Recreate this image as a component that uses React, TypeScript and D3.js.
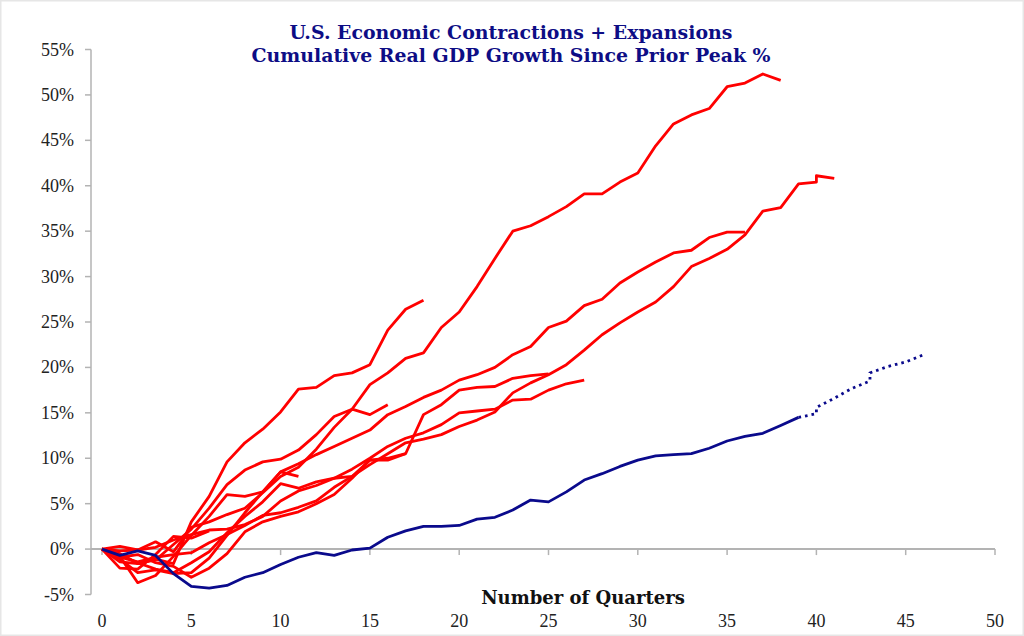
import React from "react";
import * as d3 from "d3";

// ---- Data (cumulative real GDP % since prior peak, by quarter) ----
const exp1948 = [0, -1.4, -1.6, -1.1, -1.6, 3.0, 5.8, 9.6, 11.7, 13.2, 15.1, 17.6, 17.8, 19.1, 19.4, 20.3, 24.1, 26.4, 27.4];
const exp1953 = [0, -0.6, -1.5, -2.2, -2.6, -1.5, -0.3, 1.8, 3.6, 5.2, 7.2, 6.7, 7.4, 7.8, 8.0, 9.8, 9.8, 10.5];
const exp1957 = [0, -0.8, -3.7, -2.9, -0.8, 1.5, 3.6, 6.0, 5.8, 6.3, 8.5, 8.0];
const exp1960 = [0, -0.5, -1.6, -1.2, 0.5, 2.2, 4.5, 7.1, 8.7, 9.6, 9.9, 10.9, 12.6, 14.6, 15.4, 18.1, 19.4, 21.0, 21.6, 24.4, 26.1, 28.9, 32.0, 35.0, 35.6, 36.6, 37.7, 39.1, 39.1, 40.4, 41.4, 44.4, 46.8, 47.8, 48.5, 50.9, 51.3, 52.3, 51.6];
const exp1969 = [0, -0.2, -0.1, 0.8, -0.3, 2.4, 3.0, 3.8, 4.5, 6.2, 8.0, 9.0, 11.0, 13.4, 15.4, 14.8, 15.9];
const exp1973 = [0, -0.9, -0.6, -1.5, -1.9, -3.1, -2.1, -0.5, 1.9, 3.0, 3.6, 4.1, 5.0, 6.0, 7.8, 9.8, 10.0, 10.5, 14.8, 15.9, 17.5, 17.8, 17.9, 18.8, 19.1, 19.3];
const exp1980 = [0, -2.1, -2.2, -0.6, 1.4, 1.2, 2.0];
const exp1981 = [0, -1.1, -2.6, -2.3, -2.7, -2.6, -1.0, 1.5, 4.0, 6.3, 8.5, 9.4, 10.4, 11.3, 12.2, 13.1, 14.8, 15.7, 16.7, 17.5, 18.6, 19.2, 20.0, 21.4, 22.3, 24.4, 25.1, 26.8, 27.5, 29.3, 30.5, 31.6, 32.6, 32.9, 34.3, 34.9, 34.9];
const exp1990Quarters = [0, 1, 2, 3, 4, 5, 6, 7, 8, 9, 10, 11, 12, 13, 14, 15, 16, 17, 18, 19, 20, 21, 22, 23, 24, 25, 26, 27, 28, 29, 30, 31, 32, 33, 34, 35, 36, 37, 38, 39, 40, 40, 41];
const exp1990 = [0, -0.9, -1.4, -0.9, -0.6, -0.4, 0.7, 1.6, 2.6, 3.7, 4.0, 4.6, 5.3, 6.8, 8.0, 9.3, 10.5, 11.7, 12.1, 12.6, 13.5, 14.2, 15.1, 17.2, 18.3, 19.2, 20.3, 21.9, 23.6, 24.9, 26.1, 27.2, 28.9, 31.1, 32.0, 33.0, 34.6, 37.2, 37.6, 40.2, 40.4, 41.1, 40.8];
const exp2001 = [0, 0.3, -0.1, 0.2, 1.0, 1.6, 2.1, 2.2, 2.7, 3.6, 5.3, 6.4, 7.0, 7.8, 8.8, 10.0, 11.3, 12.2, 12.8, 13.7, 15.0, 15.2, 15.4, 16.4, 16.5, 17.5, 18.2, 18.6];
const current2007 = [0, -0.7, -0.2, -0.7, -2.7, -4.1, -4.3, -4.0, -3.1, -2.6, -1.7, -0.9, -0.4, -0.7, -0.1, 0.1, 1.3, 2.0, 2.5, 2.5, 2.6, 3.3, 3.5, 4.3, 5.4, 5.2, 6.3, 7.6, 8.3, 9.1, 9.8, 10.25, 10.4, 10.5, 11.1, 11.9, 12.4, 12.75, 13.6, 14.5];
const forecastQuarters = [39, 40, 40, 41, 42, 43, 43, 44, 45, 46];
const forecast = [14.5, 14.9, 15.6, 16.6, 17.7, 18.5, 19.4, 20.1, 20.6, 21.4];

const xTicks = [0, 5, 10, 15, 20, 25, 30, 35, 40, 45, 50];
const yTicks = [-5, 0, 5, 10, 15, 20, 25, 30, 35, 40, 45, 50, 55];

const titleLines = ["U.S. Economic Contractions + Expansions", "Cumulative Real GDP Growth Since Prior Peak %"];
const xAxisTitle = "Number of Quarters";

const redSeries: number[][] = [exp1948, exp1953, exp1957, exp1960, exp1969, exp1973, exp1980, exp1981, exp2001];

export default function App() {
  const W = 1024, H = 636;
  const x = d3.scaleLinear().domain([0, 50]).range([102, 995]);
  const y = d3.scaleLinear().domain([-5, 55]).range([594.5, 49.5]);
  const line = d3.line<[number, number]>().x((d) => x(d[0])).y((d) => y(d[1]));
  const toPts = (vals: number[], qs?: number[]): [number, number][] =>
    vals.map((v, i) => [qs ? qs[i] : i, v]);

  const axisColor = "#b3b3b3";
  const navy = "#0a0a8c";
  const titleColor = "#0d0d85";
  const labelFont = "'Liberation Serif', 'Times New Roman', serif";

  return (
    <svg width={W} height={H} style={{ position: "absolute", left: 0, top: 0, background: "#fff" }}>
      <rect x={0} y={0} width={W} height={H} fill="#fff" />
      <rect x={0.75} y={0.75} width={W - 1.5} height={H - 1.5} fill="none" stroke="#e6e6e6" strokeWidth={1.5} />
      {titleLines.map((t, i) => (
        <text key={i} x={511} y={39 + i * 23} textAnchor="middle" fontFamily="'DejaVu Serif', serif" fontWeight="bold" fontSize={18.9} fill={titleColor}>
          {t}
        </text>
      ))}
      {/* Y axis */}
      <line x1={91} x2={91} y1={y(55)} y2={y(-5)} stroke={axisColor} strokeWidth={1.5} />
      {yTicks.map((t) => (
        <g key={t}>
          <line x1={85} x2={91} y1={y(t)} y2={y(t)} stroke={axisColor} strokeWidth={1.5} />
          <text x={74} y={y(t) + 6} textAnchor="end" fontFamily={labelFont} fontSize={18} fill="#222">
            {t + "%"}
          </text>
        </g>
      ))}
      {/* X axis at zero */}
      <line x1={91} x2={x(50)} y1={y(0)} y2={y(0)} stroke={axisColor} strokeWidth={2} />
      {xTicks.map((t) => (
        <g key={t}>
          <line x1={x(t)} x2={x(t)} y1={y(0)} y2={y(0) + 6} stroke={axisColor} strokeWidth={1.5} />
          <text x={x(t)} y={627} textAnchor="middle" fontFamily={labelFont} fontSize={18} fill="#222">
            {t}
          </text>
        </g>
      ))}
      <text x={583} y={604} textAnchor="middle" fontFamily="'DejaVu Serif', serif" fontWeight="bold" fontSize={18} fill="#111">
        {xAxisTitle}
      </text>
      {/* Red expansions */}
      {redSeries.map((s, i) => (
        <path key={i} d={line(toPts(s)) || ""} fill="none" stroke="#ff0000" strokeWidth={2.8} strokeLinejoin="round" />
      ))}
      <path d={line(toPts(exp1990, exp1990Quarters)) || ""} fill="none" stroke="#ff0000" strokeWidth={2.8} strokeLinejoin="round" />
      {/* Current */}
      <path d={line(toPts(current2007)) || ""} fill="none" stroke={navy} strokeWidth={2.8} strokeLinejoin="round" />
      <path d={line(toPts(forecast, forecastQuarters)) || ""} fill="none" stroke={navy} strokeWidth={2.8} strokeDasharray="2.6 4" />
    </svg>
  );
}
